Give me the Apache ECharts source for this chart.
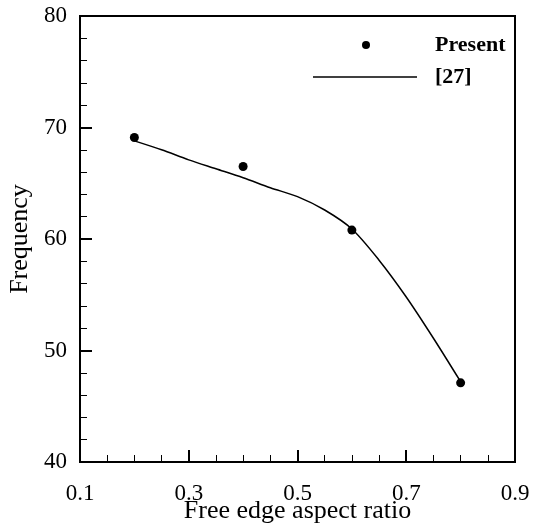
<!DOCTYPE html>
<html>
<head>
<meta charset="utf-8">
<script src="https://cdn.jsdelivr.net/npm/echarts@6/dist/echarts.min.js"></script>
<style>html,body{margin:0;padding:0;background:#fff}#c{width:533px;height:529px}</style>
</head>
<body>
<div id="c"></div>
<script>
// Data
const presentX = [0.2, 0.4, 0.6, 0.8];
const presentY = [69.1, 66.5, 60.8, 47.1];
const refX = [0.2, 0.25, 0.3, 0.35, 0.4, 0.45, 0.5, 0.55, 0.6, 0.65, 0.7, 0.75, 0.8];
const refY = [68.8, 68.0, 67.1, 66.3, 65.5, 64.6, 63.8, 62.6, 60.9, 58.1, 54.8, 51.1, 47.2];
const seriesNames = ['Present', '[27]'];
const xTitle = 'Free edge aspect ratio';
const yTitle = 'Frequency';

const font = 'Liberation Serif';
const chart = echarts.init(document.getElementById('c'), null, {renderer: 'canvas'});
chart.setOption({
  animation: false,
  backgroundColor: '#fff',
  grid: {left: 80, top: 16, right: 18, bottom: 67, containLabel: false, outerBoundsMode: 'none',
         show: true, borderColor: '#000', borderWidth: 2, backgroundColor: 'transparent'},
  legend: [
    {
      orient: 'vertical', left: 362, top: 34, padding: 0, itemWidth: 8, itemHeight: 8,
      data: [{name: seriesNames[0], icon: 'circle'}],
      textStyle: {fontFamily: font, fontWeight: 'bold', fontSize: 22, color: '#000', lineHeight: 22, padding: [0, 0, 0, 60]}
    },
    {
      orient: 'vertical', left: 313, top: 66, padding: 0, itemWidth: 104, itemHeight: 1.5,
      data: [{name: seriesNames[1], icon: 'rect'}],
      textStyle: {fontFamily: font, fontWeight: 'bold', fontSize: 22, color: '#000', lineHeight: 22, padding: [0, 0, 0, 13]}
    }
  ],
  xAxis: {
    type: 'value', min: 0.1, max: 0.9, interval: 0.2,
    name: xTitle, nameLocation: 'middle', nameGap: 36, nameMoveOverlap: false,
    nameTextStyle: {fontFamily: font, fontSize: 26, color: '#000'},
    axisLine: {lineStyle: {color: '#000', width: 2}},
    axisTick: {inside: true, length: 12, lineStyle: {color: '#000', width: 2}},
    minorTick: {show: true, splitNumber: 4, length: 7, lineStyle: {color: '#000', width: 1}},
    splitLine: {show: false},
    axisLabel: {fontFamily: font, fontSize: 23, color: '#000', margin: 20, formatter: v => v.toFixed(1)}
  },
  yAxis: {
    type: 'value', min: 40, max: 80, interval: 10,
    name: yTitle, nameLocation: 'middle', nameGap: 47, nameMoveOverlap: false,
    nameTextStyle: {fontFamily: font, fontSize: 26, color: '#000'},
    axisLine: {lineStyle: {color: '#000', width: 2}},
    axisTick: {inside: true, length: 12, lineStyle: {color: '#000', width: 2}},
    minorTick: {show: true, splitNumber: 5, length: 7, lineStyle: {color: '#000', width: 1}},
    splitLine: {show: false},
    axisLabel: {fontFamily: font, fontSize: 23, color: '#000', margin: 13}
  },
  series: [
    {
      name: seriesNames[0], type: 'scatter', symbol: 'circle', symbolSize: 9,
      itemStyle: {color: '#000', opacity: 1},
      data: presentX.map((x, i) => [x, presentY[i]]), z: 3
    },
    {
      name: seriesNames[1], type: 'line', smooth: 0.3, showSymbol: false, symbol: 'none',
      lineStyle: {color: '#000', width: 1.5}, itemStyle: {color: '#000'},
      data: refX.map((x, i) => [x, refY[i]]), z: 2
    }
  ]
});
</script>
</body>
</html>
